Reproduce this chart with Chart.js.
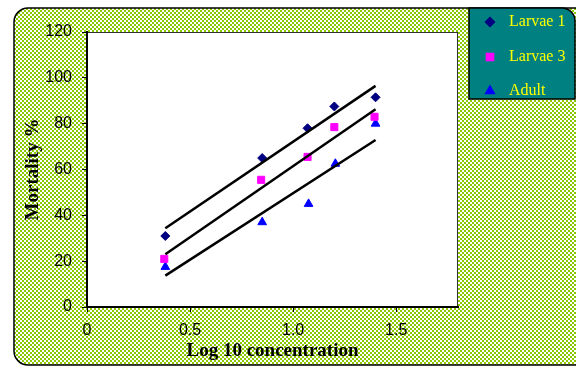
<!DOCTYPE html>
<html>
<head>
<meta charset="utf-8">
<script src="https://cdn.jsdelivr.net/npm/chart.js@4.4.0/dist/chart.umd.min.js"></script>
<style>
  html, body { margin: 0; padding: 0; background: #fff; }
</style>
</head>
<body>
<canvas id="chart" width="576" height="368"></canvas>
<script>
// series names
let seriesNames = ["Larvae 1", "Larvae 3", "Adult"];

// measured points (log10 concentration, mortality %)
let larvae1X = [0.38, 0.85, 1.07, 1.2, 1.4];
let larvae1Y = [31, 65, 78, 87.5, 91.5];
let larvae3X = [0.375, 0.845, 1.07, 1.2, 1.395];
let larvae3Y = [21, 55.5, 65.5, 78.5, 83];
let adultX = [0.38, 0.85, 1.075, 1.205, 1.4];
let adultY = [17.5, 37, 45, 62.5, 80];

// fitted lines, end points
let fitX = [0.38, 1.4];
let fitLarvae1 = [34.4, 96.5];
let fitLarvae3 = [23, 86.3];
let fitAdult = [13.7, 72.9];

// axis ticks
let xTicks = [0, 0.5, 1, 1.5];
let yTicks = [0, 20, 40, 60, 80, 100, 120];

function toPoints(xs, ys) {
  return xs.map((x, i) => ({ x: x, y: ys[i] }));
}

// checkered green background
let pat = document.createElement("canvas");
pat.width = 4;
pat.height = 4;
let pg = pat.getContext("2d");
pg.fillStyle = "#8CC800";
pg.fillRect(0, 0, 4, 4);
pg.fillStyle = "#ffffff";
pg.fillRect(0, 0, 2, 2);
pg.fillRect(2, 2, 2, 2);

let markerStyles = ["rectRot", "rect", "triangle"];
let markerColors = ["#000080", "#FF00FF", "#0000FF"];
let markerSizes = [4.5, 5, 5];

const backgroundPlugin = {
  id: "backdrop",
  beforeDraw(chart) {
    const ctx = chart.ctx;
    const a = chart.chartArea;
    ctx.save();
    ctx.fillStyle = "#fff";
    ctx.fillRect(0, 0, chart.width, chart.height);

    // rounded outer frame
    ctx.beginPath();
    ctx.roundRect(14, 8, 580, 357, 14);
    ctx.fillStyle = ctx.createPattern(pat, "repeat");
    ctx.fill();
    ctx.lineWidth = 1.5;
    ctx.strokeStyle = "#000";
    ctx.stroke();

    // plot area
    ctx.fillStyle = "#fff";
    ctx.fillRect(a.left, a.top, a.right - a.left, a.bottom - a.top);
    ctx.lineWidth = 1;
    ctx.strokeStyle = "#333";
    ctx.strokeRect(a.left + 0.5, a.top + 0.5, a.right - a.left - 1, a.bottom - a.top);
    ctx.restore();
  },
  afterDraw(chart) {
    // legend box
    const ctx = chart.ctx;
    ctx.save();
    ctx.beginPath();
    ctx.moveTo(469, 8);
    ctx.lineTo(562, 8);
    ctx.arcTo(575, 8, 575, 21, 13);
    ctx.lineTo(575, 99);
    ctx.lineTo(469, 99);
    ctx.closePath();
    ctx.fillStyle = "#008080";
    ctx.fill();
    ctx.lineWidth = 1.5;
    ctx.strokeStyle = "#000";
    ctx.stroke();

    let rowY = [22, 57, 91];
    ctx.font = "16px 'Liberation Serif', 'Times New Roman', serif";
    ctx.textBaseline = "middle";
    ctx.textAlign = "left";
    seriesNames.forEach((name, i) => {
      ctx.fillStyle = markerColors[i];
      ctx.strokeStyle = markerColors[i];
      Chart.helpers.drawPoint(ctx, {
        pointStyle: markerStyles[i],
        radius: markerSizes[i],
        rotation: 0,
        borderWidth: 1
      }, 490, rowY[i]);
      ctx.fillStyle = "#FFFF00";
      ctx.fillText(name, 509, rowY[i]);
    });
    ctx.restore();
  }
};

function pointSet(i, xs, ys) {
  return {
    label: seriesNames[i],
    data: toPoints(xs, ys),
    showLine: false,
    pointStyle: markerStyles[i],
    pointRadius: markerSizes[i],
    pointBackgroundColor: markerColors[i],
    pointBorderColor: markerColors[i],
    pointBorderWidth: 1
  };
}

function fitSet(ys) {
  return {
    label: "fit",
    data: toPoints(fitX, ys),
    showLine: true,
    borderColor: "#000",
    borderWidth: 2.5,
    pointRadius: 0
  };
}

const tickFont = { family: "'Liberation Sans', Arial, sans-serif", size: 16 };
const titleFont = { family: "'Liberation Serif', 'Times New Roman', serif", size: 19, weight: "bold" };

new Chart(document.getElementById("chart"), {
  type: "scatter",
  data: {
    datasets: [
      fitSet(fitLarvae1),
      fitSet(fitLarvae3),
      fitSet(fitAdult),
      pointSet(0, larvae1X, larvae1Y),
      pointSet(1, larvae3X, larvae3Y),
      pointSet(2, adultX, adultY)
    ]
  },
  options: {
    responsive: false,
    animation: false,
    layout: { padding: { left: 14, right: 118, top: 32, bottom: 2 } },
    plugins: {
      legend: { display: false },
      tooltip: { enabled: false }
    },
    scales: {
      x: {
        type: "linear",
        min: 0,
        max: 1.8,
        afterBuildTicks: s => { s.ticks = xTicks.map(v => ({ value: v })); },
        afterFit: s => { s.height = 59; },
        grid: { drawOnChartArea: false, drawTicks: true, tickLength: 5, color: "#000" },
        border: { display: true, color: "#000", width: 2 },
        ticks: { color: "#000", font: tickFont, padding: 9, maxRotation: 0 },
        title: { display: true, text: "Log 10 concentration", color: "#000", font: titleFont, padding: { top: 0, bottom: 4 } }
      },
      y: {
        type: "linear",
        min: 0,
        max: 120,
        afterBuildTicks: s => { s.ticks = yTicks.map(v => ({ value: v })); },
        afterFit: s => { s.width = 73; },
        grid: { drawOnChartArea: false, drawTicks: true, tickLength: 5, color: "#000" },
        border: { display: true, color: "#000", width: 2 },
        ticks: { color: "#000", font: tickFont, padding: 10 },
        title: { display: true, text: "Mortality %", color: "#000", font: titleFont, padding: { top: 8, bottom: 0 } }
      }
    }
  },
  plugins: [backgroundPlugin]
});
</script>
</body>
</html>
